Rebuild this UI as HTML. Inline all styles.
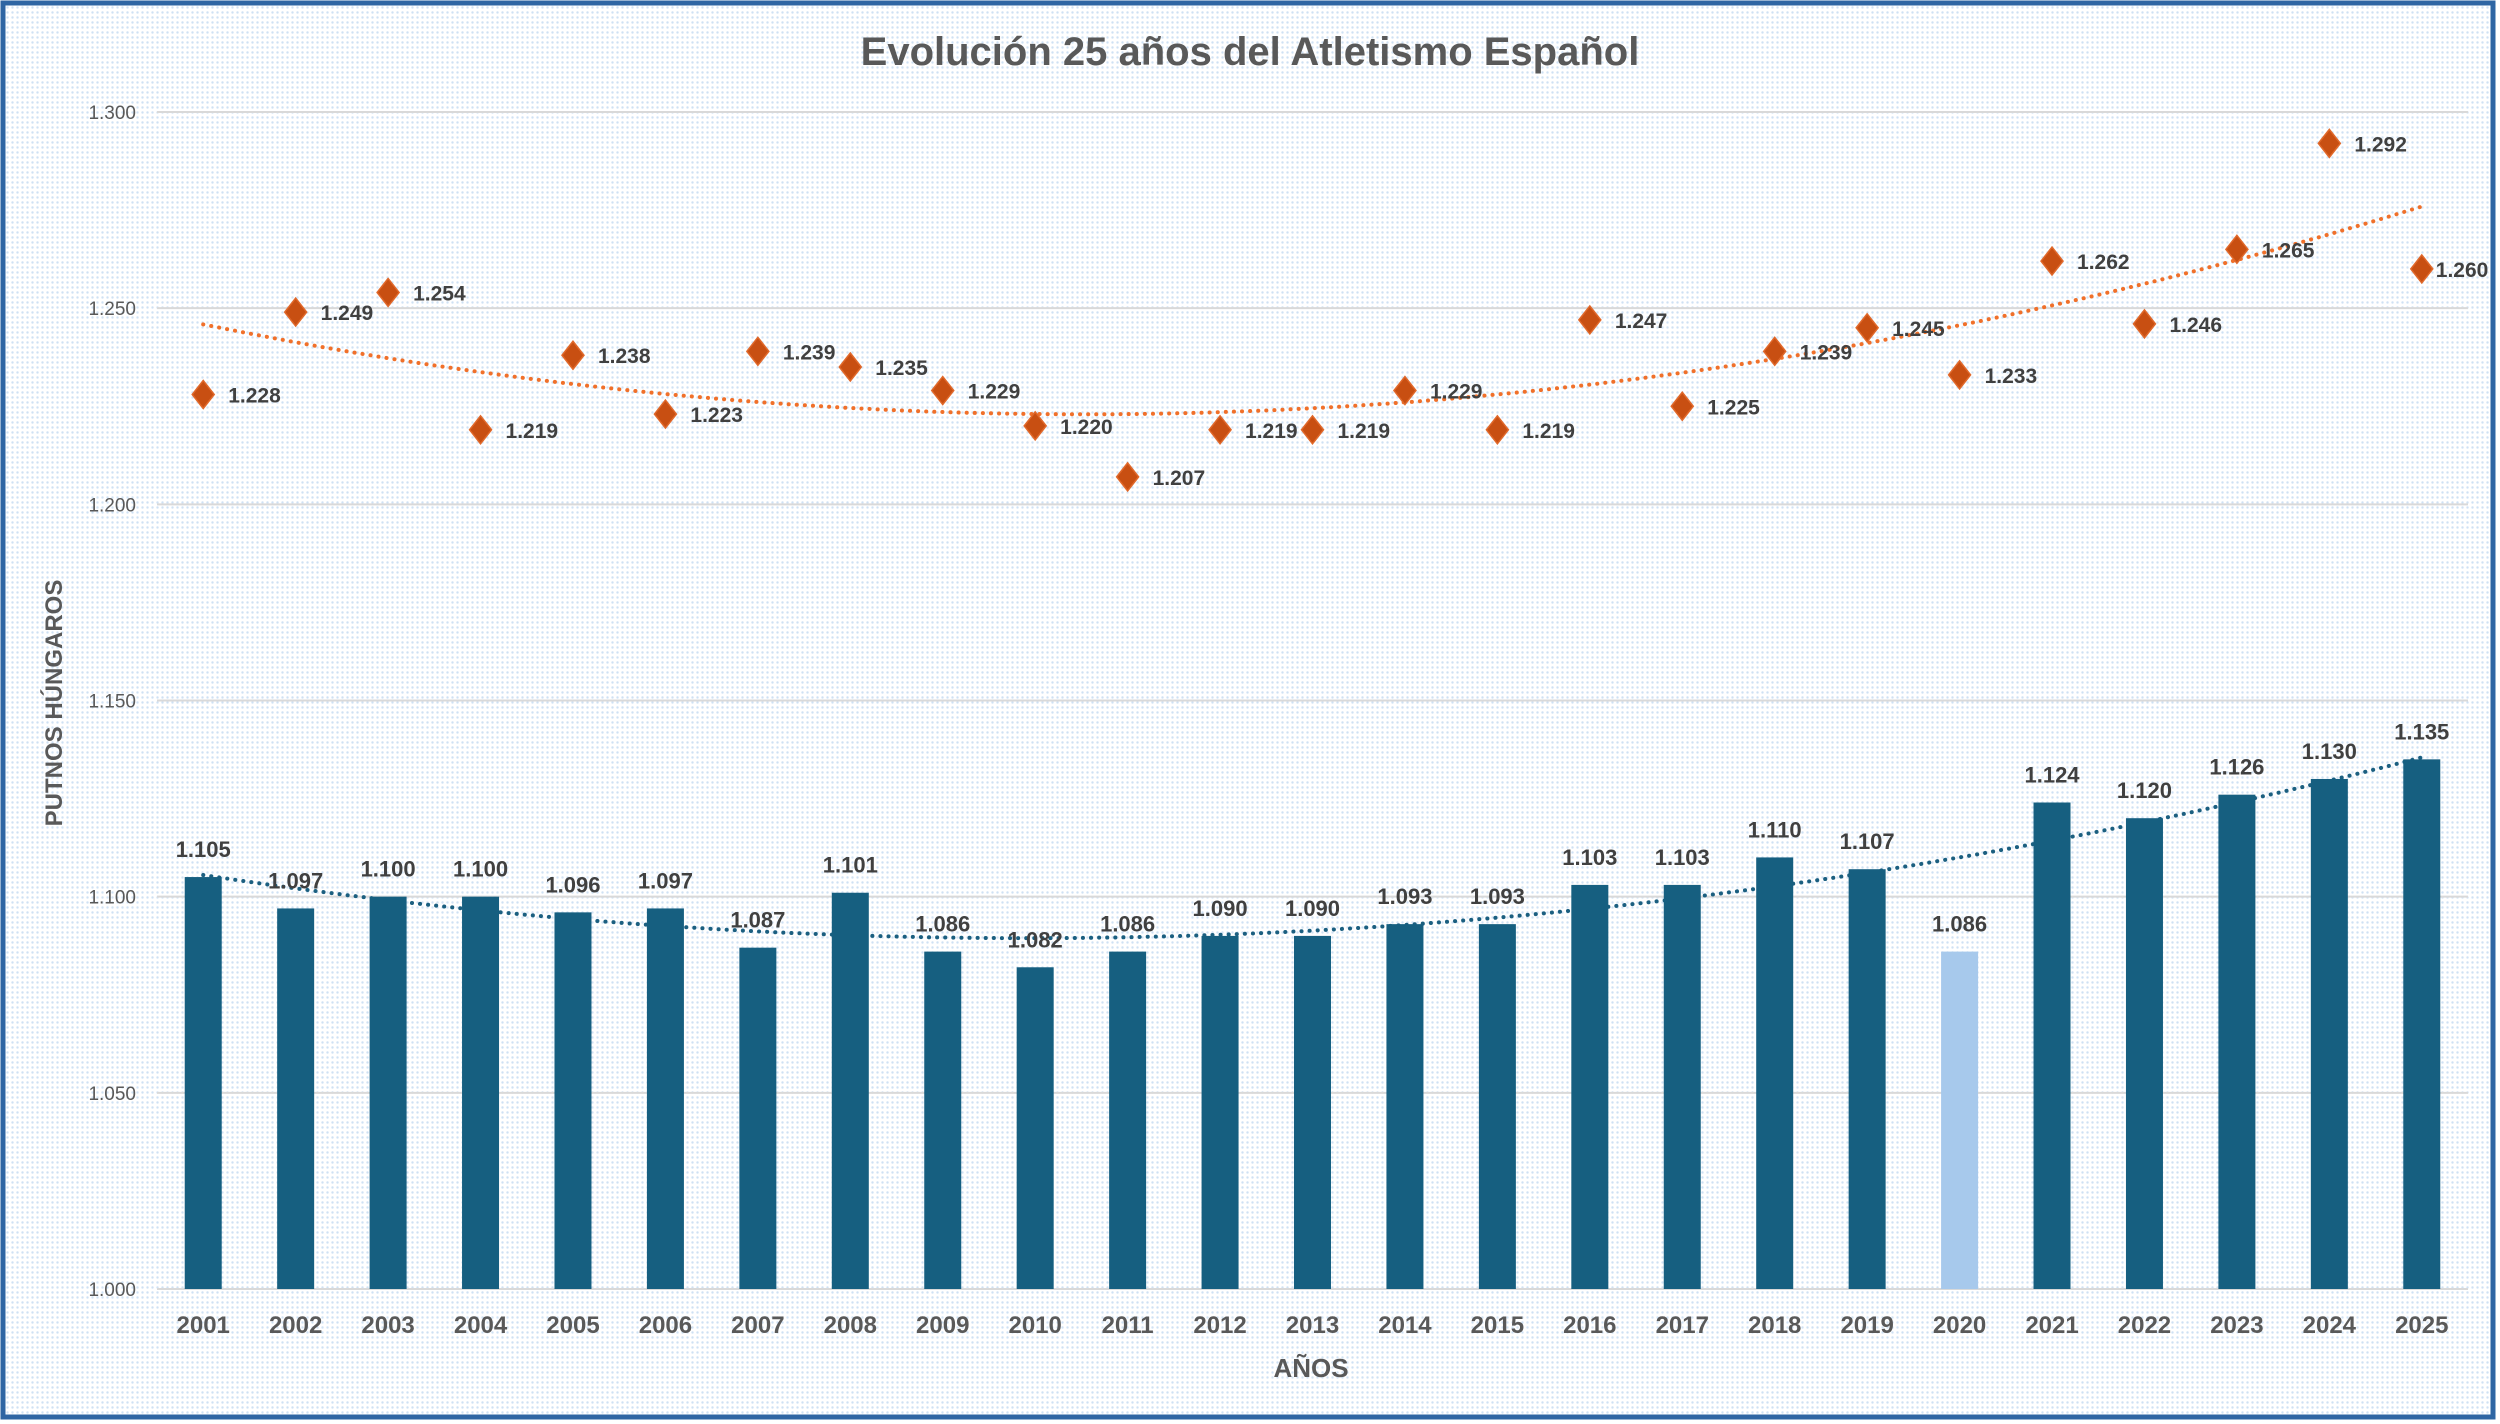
<!DOCTYPE html>
<html><head><meta charset="utf-8"><style>
html,body{margin:0;padding:0;background:#fff}
svg{display:block}
text{font-family:"Liberation Sans",sans-serif}
</style></head><body>
<svg id="chart" width="2500" height="1424" viewBox="0 0 2500 1424">
<defs>
<pattern id="dots" width="5" height="5" patternUnits="userSpaceOnUse">
<rect width="5" height="5" fill="#ffffff"/>
<circle cx="2.5" cy="2.5" r="1.2" fill="#cfe1f4"/>
</pattern>
</defs>
<rect x="3" y="3" width="2490" height="1414" fill="url(#dots)" stroke="#2e65a3" stroke-width="5"/>
<text x="1250" y="65" text-anchor="middle" font-size="40" font-weight="bold" fill="#595959">Evolución 25 años del Atletismo Español</text>
<g id="grid"></g>
<g id="trends"></g>
<g id="bars"></g>
<g id="pts"></g>
<g id="xlabels"></g>
<text transform="translate(62,703) rotate(-90)" text-anchor="middle" font-size="24" font-weight="bold" fill="#595959">PUTNOS HÚNGAROS</text>
<text x="1311" y="1377" text-anchor="middle" font-size="26" font-weight="bold" fill="#595959">AÑOS</text>
</svg>
<script>
const years = [2001,2002,2003,2004,2005,2006,2007,2008,2009,2010,2011,2012,2013,2014,2015,2016,2017,2018,2019,2020,2021,2022,2023,2024,2025];
const barValues = [1.105,1.097,1.100,1.100,1.096,1.097,1.087,1.101,1.086,1.082,1.086,1.090,1.090,1.093,1.093,1.103,1.103,1.110,1.107,1.086,1.124,1.120,1.126,1.130,1.135];
const pointValues = [1.228,1.249,1.254,1.219,1.238,1.223,1.239,1.235,1.229,1.220,1.207,1.219,1.219,1.229,1.219,1.247,1.225,1.239,1.245,1.233,1.262,1.246,1.265,1.292,1.260];
const yTicks = [1.000,1.050,1.100,1.150,1.200,1.250,1.300];
const highlightYear = 2020;

const NS='http://www.w3.org/2000/svg';
const X0=157,X1=2468,Y0=1289,Y1=112,VMIN=1.0,VMAX=1.3;
const band=(X1-X0)/years.length;
const xPos=i=>X0+band*(i+0.5);
const yPos=v=>Y0-(v-VMIN)/(VMAX-VMIN)*(Y0-Y1);
const fmt=v=>v.toFixed(3);
function mk(tag,attrs,parent,txt){const e=document.createElementNS(NS,tag);for(const k in attrs)e.setAttribute(k,attrs[k]);if(txt!==undefined)e.textContent=txt;parent.appendChild(e);return e;}

const grid=document.getElementById('grid');
yTicks.forEach(t=>{
  const l=mk('line',{x1:X0,x2:X1,y1:yPos(t),y2:yPos(t),stroke:'#d9d9d9','stroke-width':2},grid);
  
  
  const tx=mk('text',{x:136,y:yPos(t)+7,'text-anchor':'end','font-size':19,fill:'#595959'},grid,fmt(t));
  
  
});

function polyfit2(vals){
  let S=[0,0,0,0,0],T=[0,0,0];
  vals.forEach((v,i)=>{const x=i;for(let k=0;k<5;k++)S[k]+=Math.pow(x,k);for(let k=0;k<3;k++)T[k]+=v*Math.pow(x,k);});
  const A=[[S[0],S[1],S[2],T[0]],[S[1],S[2],S[3],T[1]],[S[2],S[3],S[4],T[2]]];
  for(let c=0;c<3;c++){for(let r=c+1;r<3;r++){const f=A[r][c]/A[c][c];for(let k=c;k<4;k++)A[r][k]-=f*A[c][k];}}
  const s=[0,0,0];for(let r=2;r>=0;r--){let v=A[r][3];for(let k=r+1;k<3;k++)v-=A[r][k]*s[k];s[r]=v/A[r][r];}
  return x=>s[0]+s[1]*x+s[2]*x*x;
}
const trends=document.getElementById('trends');
function drawTrend(vals,color,name){
  const f=polyfit2(vals);let d='';
  for(let t=0;t<=200;t++){const x=t/200*(vals.length-1);d+=(t?'L':'M')+(X0+band*(x+0.5)).toFixed(1)+','+yPos(f(x)).toFixed(1);}
  const p=mk('path',{d:d,fill:'none',stroke:color,'stroke-width':4,'stroke-dasharray':'0.1 8','stroke-linecap':'round'},trends);
  
  
}
drawTrend(barValues,'#1b5f80','bar-trendline');
drawTrend(pointValues,'#f0702a','point-trendline');

const bars=document.getElementById('bars');
const BW=37;
barValues.forEach((v,i)=>{
  const x=xPos(i),y=yPos(v);
  const r=mk('rect',{x:x-BW/2,y:y,width:BW,height:Y0-y,fill:years[i]===highlightYear?'#a7c9ec':'#165f80'},bars);
  
  
  const t=mk('text',{x:x,y:y-20,'text-anchor':'middle','font-size':22,'font-weight':'bold',fill:'#404040'},bars,fmt(v));
  
  
});

const pts=document.getElementById('pts');
pointValues.forEach((v,i)=>{
  const x=xPos(i),y=yPos(v);
  const p=mk('polygon',{points:`${x},${y-14} ${x+11},${y} ${x},${y+14} ${x-11},${y}`,fill:'#c84f12',stroke:'#e0682a','stroke-width':1.5},pts);
  
  
  const t=mk('text',{x:x+(i===years.length-1?14:25),y:y+8,'font-size':21,'font-weight':'bold',fill:'#404040'},pts,fmt(v));
  
  
});

const xl=document.getElementById('xlabels');
years.forEach((yr,i)=>{
  const t=mk('text',{x:xPos(i),y:1333,'text-anchor':'middle','font-size':24,'font-weight':'bold',fill:'#595959'},xl,String(yr));
  
  
});
</script>
</body></html>
